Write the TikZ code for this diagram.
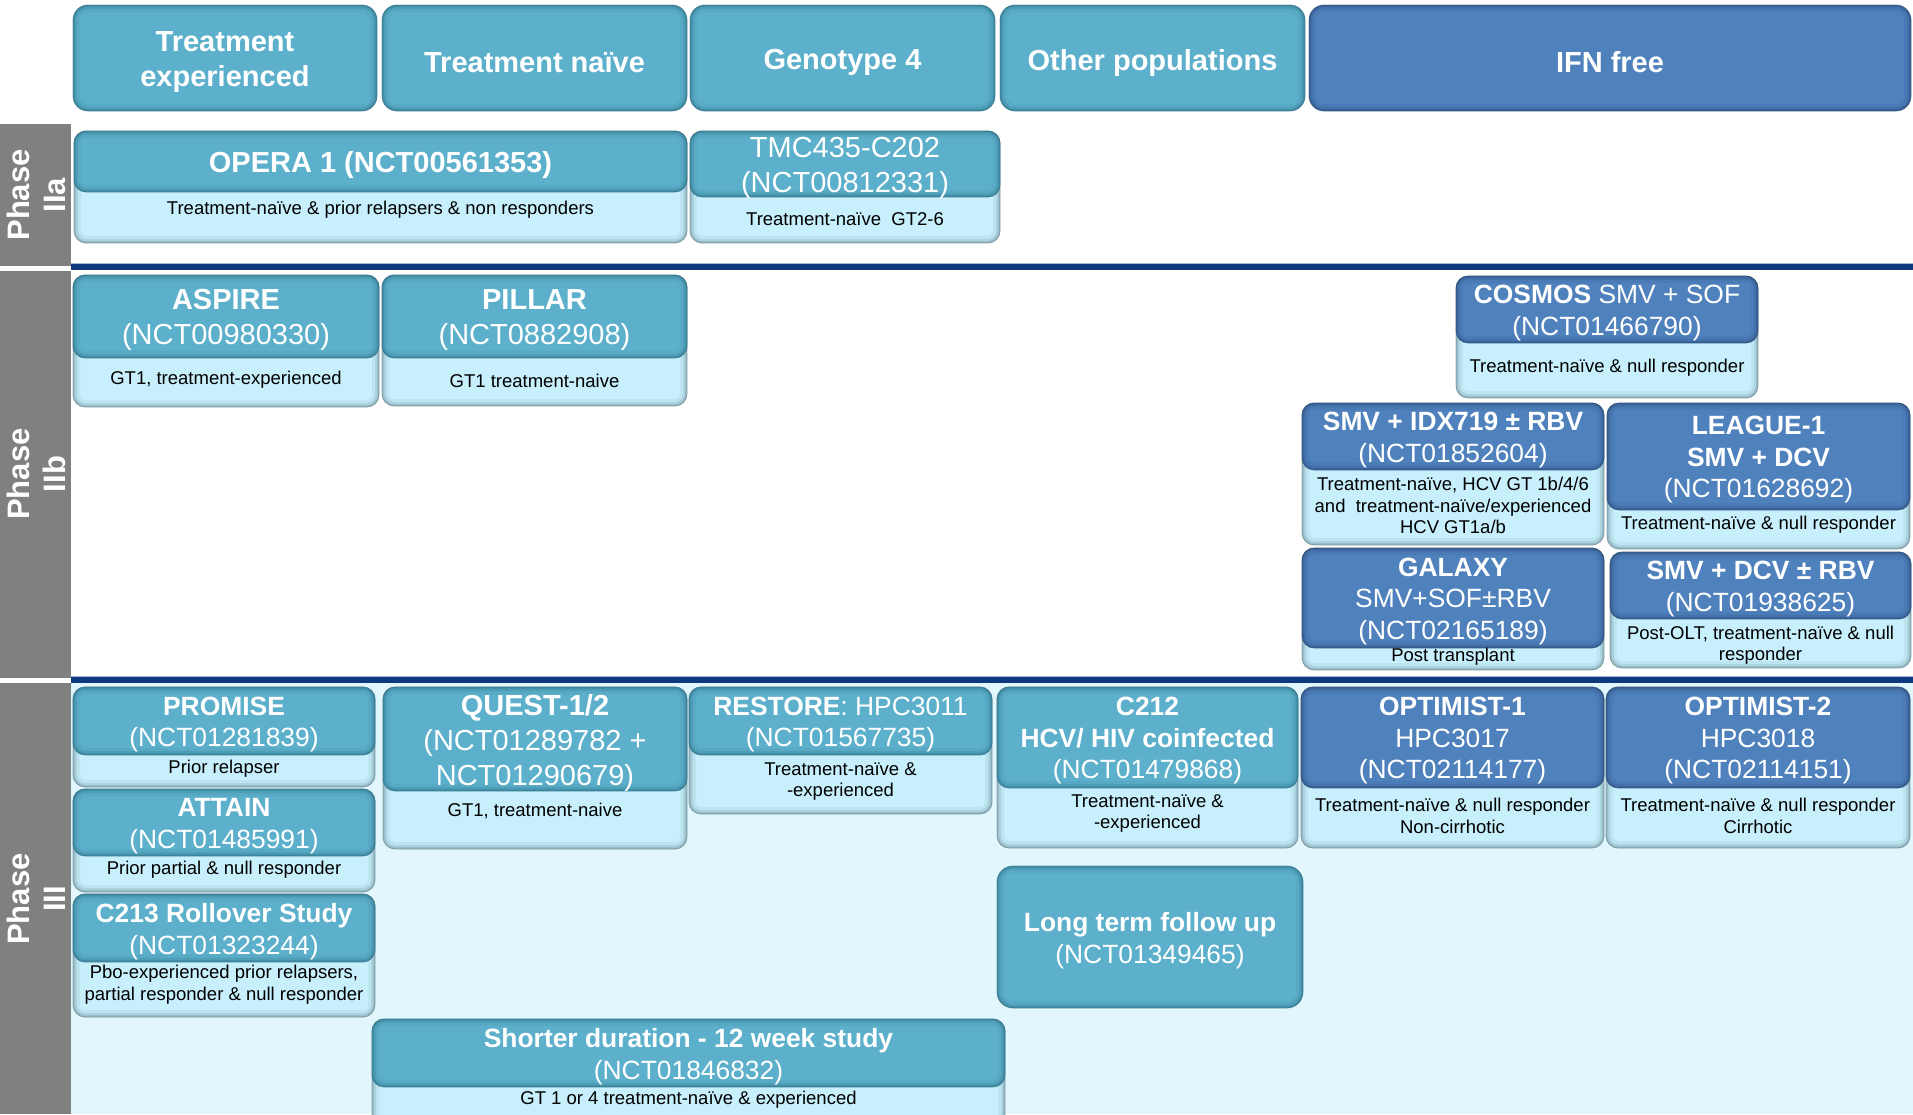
\documentclass[tikz,border=0pt]{standalone}
\usepackage{fontspec}
\setmainfont{Liberation Sans}
\definecolor{teal1}{RGB}{92,176,203}
\definecolor{tealedge}{RGB}{30,92,114}
\definecolor{blue1}{RGB}{79,129,189}
\definecolor{blueedge}{RGB}{28,58,100}
\definecolor{light1}{RGB}{199,239,252}
\definecolor{lightedge}{RGB}{80,108,120}
\definecolor{p3bg}{RGB}{225,246,253}
\definecolor{barGray}{RGB}{128,128,128}
\definecolor{navy1}{RGB}{14,58,125}
\definecolor{navyedge}{RGB}{160,186,216}

\tikzset{
  ttext/.style={inner sep=0pt, align=center, text=white, yshift=-3.5pt},
  bigt/.style={font=\fontsize{29}{35}\selectfont},
  smallt/.style={font=\fontsize{26.4}{31.5}\selectfont},
  hdrt/.style={font=\bfseries\fontsize{29}{35}\selectfont, yshift=-1pt},
  desc/.style={inner sep=0pt, align=center, text=black, font=\fontsize{18.5}{21.5}\selectfont},
  phaselbl/.style={rotate=90, align=center, text=white, inner sep=0pt, font=\bfseries\fontsize{31}{36}\selectfont},
}

% bevelled rounded rectangle: x1 y1 x2 y2 fill shade radius
\newcommand\bevelrect[7]{%
  \fill[#5, rounded corners=#7] (#1,#2) rectangle (#3,#4);
  \begin{scope}
    \clip[rounded corners=#7] (#1,#2) rectangle (#3,#4);
    \draw[#6, line width=14pt, draw opacity=.08, rounded corners=#7] (#1,#2) rectangle (#3,#4);
    \draw[#6, line width=8pt, draw opacity=.14, rounded corners=#7] (#1,#2) rectangle (#3,#4);
    \draw[#6, line width=4pt, draw opacity=.22, rounded corners=#7] (#1,#2) rectangle (#3,#4);
  \end{scope}
  \draw[#6, line width=0.8pt, draw opacity=.55, rounded corners=#7] (#1,#2) rectangle (#3,#4);
}

\def\parsegeom#1/#2/#3/#4/#5/#6\relax{\def\gxa{#1}\def\gya{#2}\def\gxb{#3}\def\gys{#4}\def\gyb{#5}\def\gyd{#6}}
% name, geometry x1/y1/x2/ysplit/y2/ydesc, fill, shade, font style, title, description
\newcommand\studybox[7]{%
  \parsegeom#2\relax
  \bevelrect{\gxa}{\gya}{\gxb}{\gyb}{light1}{lightedge}{12pt}
  \bevelrect{\gxa}{\gya}{\gxb}{\gys}{#3}{#4}{12pt}
  \node[ttext, #5] (#1) at ({(\gxa+\gxb)/2},{(\gya+\gys)/2}) {#6};
  \node[desc] (#1-d) at ({(\gxa+\gxb)/2},\gyd) {#7};
}
% name, x1, y1, x2, y2, fill, shade, text
\newcommand\headbox[8]{%
  \bevelrect{#2}{#3}{#4}{#5}{#6}{#7}{15pt}
  \node[ttext, hdrt] (#1) at ({(#2+#4)/2},{(#3+#5)/2}) {#8};
}

\begin{document}
\begin{tikzpicture}[x=1pt,y=-1pt]
\useasboundingbox (0,0) rectangle (1913,1114);
\clip (0,0) rectangle (1913,1114);
\fill[white] (0,0) rectangle (1913,1114);

% phase backgrounds
\fill[p3bg] (71,683) rectangle (1913,1114);
\fill[barGray] (0,124) rectangle (71,266);
\fill[barGray] (0,271) rectangle (71,678);
\fill[barGray] (0,683) rectangle (71,1114);
\fill[navy1] (71,264) rectangle (1913,270);
\fill[navy1] (71,677) rectangle (1913,683);
\draw[navyedge, line width=1pt] (71,263.5) -- (1913,263.5);
\draw[navyedge, line width=1pt] (71,676.5) -- (1913,676.5);

% phase labels
\node[phaselbl] (ph2a) at (36,195) {Phase\\IIa};
\node[phaselbl] (ph2b) at (36,474) {Phase\\IIb};
\node[phaselbl] (ph3) at (36,899) {Phase\\III};

% headers
\headbox{h1}{73}{5}{377}{111}{teal1}{tealedge}{Treatment\\experienced}
\headbox{h2}{382}{5}{687}{111}{teal1}{tealedge}{Treatment naïve}
\headbox{h3}{690}{5}{995}{111}{teal1}{tealedge}{Genotype 4}
\headbox{h4}{1000}{5}{1305}{111}{teal1}{tealedge}{Other populations}
\headbox{h5}{1309}{5}{1911}{111}{blue1}{blueedge}{IFN free}

% Phase IIa
\studybox{opera}{74/131/687/192/243/210}{teal1}{tealedge}{bigt}{\textbf{OPERA 1 (NCT00561353)}}{Treatment-naïve \& prior relapsers \& non responders}
\studybox{tmc}{690/131/1000/197/243/219}{teal1}{tealedge}{bigt}{TMC435-C202\\(NCT00812331)}{Treatment-naïve~~GT2-6}

% Phase IIb
\studybox{aspire}{73/275/379/358/407/380}{teal1}{tealedge}{bigt}{\textbf{ASPIRE}\\(NCT00980330)}{GT1, treatment-experienced}
\studybox{pillar}{382/275/687/358/406/381}{teal1}{tealedge}{bigt}{\textbf{PILLAR}\\(NCT0882908)}{GT1 treatment-naive}
\studybox{cosmos}{1456/276/1758/343/398/368}{blue1}{blueedge}{smallt}{\textbf{COSMOS} SMV + SOF\\(NCT01466790)}{Treatment-naïve \& null responder}
\studybox{idx}{1302/403/1604/470/545/505.5}{blue1}{blueedge}{smallt}{\textbf{SMV + IDX719 ± RBV}\\(NCT01852604)}{Treatment-naïve, HCV GT 1b/4/6\\and~~treatment-naïve/experienced\\HCV GT1a/b}
\studybox{league}{1607/403/1910/510/549/525}{blue1}{blueedge}{smallt}{\textbf{LEAGUE-1}\\\textbf{SMV + DCV}\\(NCT01628692)}{Treatment-naïve \& null responder}
\studybox{galaxy}{1302/548/1604/648/670/657}{blue1}{blueedge}{smallt}{\textbf{GALAXY}\\SMV+SOF±RBV\\(NCT02165189)}{Post transplant}
\studybox{dcv}{1610/552/1911/619/668/645}{blue1}{blueedge}{smallt}{\textbf{SMV + DCV ± RBV}\\(NCT01938625)}{Post-OLT, treatment-naïve \& null\\responder}

% Phase III
\studybox{promise}{73/687/375/755/787/769}{teal1}{tealedge}{smallt}{\textbf{PROMISE}\\(NCT01281839)}{Prior relapser}
\studybox{attain}{73/789/375/856/892/870}{teal1}{tealedge}{smallt}{\textbf{ATTAIN}\\(NCT01485991)}{Prior partial \& null responder}
\studybox{c213}{73/894/375/962/1017/984.5}{teal1}{tealedge}{smallt}{\textbf{C213 Rollover Study}\\(NCT01323244)}{Pbo-experienced prior relapsers,\\partial responder \& null responder}
\studybox{quest}{383/687/687/791/849/811}{teal1}{tealedge}{bigt}{\textbf{QUEST-1/2}\\(NCT01289782 +\\NCT01290679)}{GT1, treatment-naive}
\studybox{restore}{689/687/992/755/814/781.5}{teal1}{tealedge}{smallt}{\textbf{RESTORE}: HPC3011\\(NCT01567735)}{Treatment-naïve \&\\-experienced}
\studybox{c212}{997/687/1298/788/848/813.5}{teal1}{tealedge}{smallt}{\textbf{C212}\\\textbf{HCV/ HIV coinfected}\\(NCT01479868)}{Treatment-naïve \&\\-experienced}
\studybox{opt1}{1301/687/1604/788/848/816}{blue1}{blueedge}{smallt}{\textbf{OPTIMIST-1}\\HPC3017\\(NCT02114177)}{Treatment-naïve \& null responder\\Non-cirrhotic}
\studybox{opt2}{1606/687/1910/788/848/816}{blue1}{blueedge}{smallt}{\textbf{OPTIMIST-2}\\HPC3018\\(NCT02114151)}{Treatment-naïve \& null responder\\Cirrhotic}
\bevelrect{997}{866}{1303}{1008}{teal1}{tealedge}{16pt}
\node[ttext, smallt] (ltfu) at (1150,937) {\textbf{Long term follow up}\\(NCT01349465)};
\studybox{shorter}{372/1019/1005/1087/1135/1100}{teal1}{tealedge}{smallt}{\textbf{Shorter duration - 12 week study}\\(NCT01846832)}{GT 1 or 4 treatment-naïve \& experienced}
\end{tikzpicture}
\end{document}
